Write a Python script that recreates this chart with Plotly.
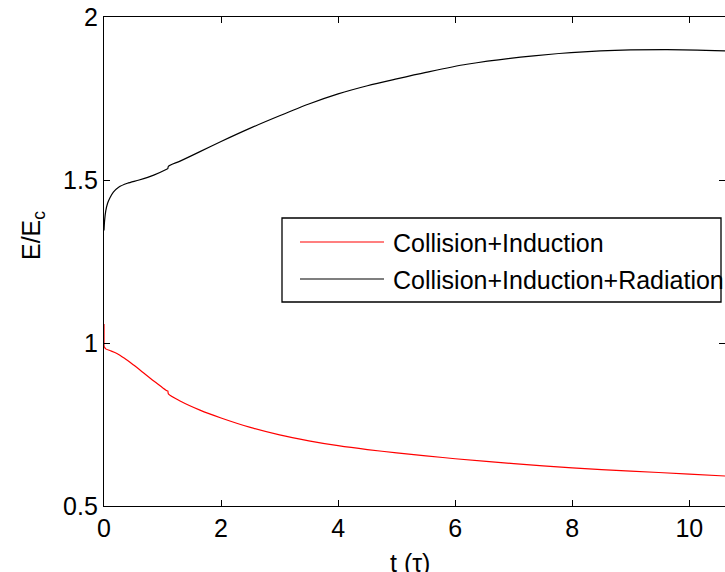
import plotly.graph_objects as go

# ---- data ----
# initial drop of the Collision+Induction curve at t = 0
t_ci_start = [0, 0]
e_ci_start = [1.058, 0.99]

t_ci = [0, 0.03, 0.1, 0.22, 0.35, 0.5, 0.65, 0.79, 0.93, 1.07, 1.09, 1.10, 1.3, 1.64, 2.0, 2.5, 3.0, 3.5, 4.0,
        4.5, 5.0, 5.5, 6.0, 7.0, 8.0, 9.0, 10.0, 10.62]
e_ci = [0.99, 0.982, 0.977, 0.968, 0.953, 0.933, 0.912, 0.892, 0.873, 0.854, 0.853, 0.844, 0.822, 0.794,
        0.770, 0.741, 0.718, 0.700, 0.685, 0.673, 0.663, 0.654, 0.645, 0.630, 0.617, 0.607, 0.598, 0.592]

t_cir = [0, 0.01, 0.03, 0.06, 0.1, 0.16, 0.25, 0.4, 0.6, 0.85, 1.07, 1.09, 1.10, 1.3, 1.64, 2.0, 2.5, 3.0, 3.5,
         4.0, 4.5, 5.0, 5.5, 6.2, 7.34, 8.48, 9.62, 10.62]
e_cir = [1.345, 1.375, 1.405, 1.428, 1.445, 1.463, 1.478, 1.490, 1.500, 1.515, 1.533, 1.535, 1.542, 1.558,
         1.587, 1.618, 1.659, 1.697, 1.733, 1.764, 1.789, 1.810, 1.830, 1.855, 1.881, 1.896, 1.900, 1.896]

series_names = ["Collision+Induction", "Collision+Induction+Radiation"]
series_colors = ["#ff0000", "#000000"]

x_ticks = [0, 2, 4, 6, 8, 10]
y_ticks = [0.5, 1, 1.5, 2]
y_tick_text = ["0.5", "1", "1.5", "2"]

FONT = "Liberation Sans, Arial, Helvetica, sans-serif"
FS = 25

# ---- layout geometry (pixels) ----
W, H = 725, 572
L, R, T, B = 104, 0, 17, 66
PW = W - L - R
PH = H - T - B


def px(xp):
    return (xp - L) / PW


def py(yp):
    return (H - B - yp) / PH


fig = go.Figure()
fig.add_trace(go.Scatter(x=t_ci_start, y=e_ci_start, mode="lines",
                         line=dict(color=series_colors[0], width=1.2), showlegend=False, hoverinfo="skip"))
fig.add_trace(go.Scatter(x=t_ci, y=e_ci, mode="lines",
                         line=dict(color=series_colors[0], width=1.2, shape="spline", smoothing=0.8),
                         name=series_names[0], showlegend=False))
fig.add_trace(go.Scatter(x=t_cir, y=e_cir, mode="lines",
                         line=dict(color=series_colors[1], width=1.2, shape="spline", smoothing=0.8),
                         name=series_names[1], showlegend=False))
# dummy trace to activate right-side tick axis
fig.add_trace(go.Scatter(x=[None], y=[None], yaxis="y2", showlegend=False, hoverinfo="skip"))

axis_common = dict(showgrid=False, zeroline=False, ticks="inside", ticklen=6, tickwidth=1,
                   tickcolor="black", tickfont=dict(family=FONT, size=FS, color="black"))

fig.update_layout(
    width=W, height=H,
    margin=dict(l=L, r=R, t=T, b=B, pad=0),
    paper_bgcolor="white", plot_bgcolor="white",
    showlegend=False,
    xaxis=dict(range=[0, 10.61], tickvals=x_ticks, showline=True, linecolor="black", linewidth=1,
               mirror="ticks", **axis_common),
    yaxis=dict(range=[0.5, 2], tickvals=y_ticks, ticktext=y_tick_text, showline=True, linecolor="black",
               linewidth=1.3, mirror=False, **axis_common),
    yaxis2=dict(range=[0.5, 2], tickvals=y_ticks, overlaying="y", side="right", showline=False,
                showticklabels=False, showgrid=False, zeroline=False, ticks="inside", ticklen=6,
                tickcolor="black"),
)

# legend drawn manually (text overflows the box like in the reference)
box = dict(x0=282, x1=721, y0=218, y1=302)
fig.add_shape(type="rect", xref="paper", yref="paper", x0=px(box["x0"]), x1=px(box["x1"]),
              y0=py(box["y1"]), y1=py(box["y0"]), line=dict(color="black", width=1.3),
              fillcolor="white", layer="above")
leg_rows = [242, 279]
for name, color, yrow in zip(series_names, series_colors, leg_rows):
    fig.add_shape(type="line", xref="paper", yref="paper", x0=px(300), x1=px(384), y0=py(yrow), y1=py(yrow),
                  line=dict(color=color, width=1.2), layer="above")
    fig.add_annotation(text=name, xref="paper", yref="paper", x=px(391), y=py(yrow + 1), xanchor="left",
                       yanchor="middle", showarrow=False, font=dict(family=FONT, size=FS, color="black"))

# axis titles
fig.add_annotation(text="E/E<sub>c</sub>", xref="paper", yref="paper", x=px(33), y=py(236), textangle=-90,
                   xanchor="center", yanchor="middle", showarrow=False,
                   font=dict(family=FONT, size=FS, color="black"))
fig.add_annotation(text="t (τ)", xref="paper", yref="paper", x=px(410), y=py(563), xanchor="center",
                   yanchor="middle", showarrow=False, font=dict(family=FONT, size=FS, color="black"))

fig.write_html("out.html")
